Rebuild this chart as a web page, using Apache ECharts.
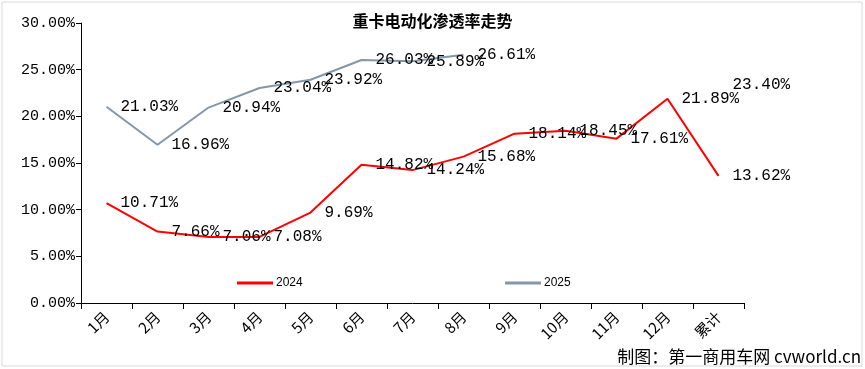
<!DOCTYPE html>
<html>
<head>
<meta charset="utf-8">
<script src="https://cdn.jsdelivr.net/npm/echarts@6/dist/echarts.min.js"></script>
<style>
html,body{margin:0;padding:0;background:#fff;}
#c{width:865px;height:369px;}
</style>
</head>
<body>
<div id="c"></div>
<script>
const categories = ['1月','2月','3月','4月','5月','6月','7月','8月','9月','10月','11月','12月','累计'];
const series2024 = [10.71, 7.66, 7.06, 7.08, 9.69, 14.82, 14.24, 15.68, 18.14, 18.45, 17.61, 21.89, 13.62];
const series2025 = [21.03, 16.96, 20.94, 23.04, 23.92, 26.03, 25.89, 26.61, null, null, null, null, 23.40];
const yTicks = [0, 5, 10, 15, 20, 25, 30];

const chart = echarts.init(document.getElementById('c'));
const labelFont = {
  show: true, position: 'right', distance: 14, color: '#000',
  fontFamily: 'Liberation Mono', fontSize: 16,
  formatter: p => p.value == null ? '' : p.value.toFixed(2) + '%'
};
chart.setOption({
  animation: false,
  backgroundColor: '#fff',
  title: {
    text: '重卡电动化渗透率走势', left: 'center', top: 8,
    textStyle: {fontFamily: 'Noto Sans CJK SC', fontSize: 16, fontWeight: 'bold', color: '#000'}
  },
  legend: [
    {data: ['2024'], left: 232, top: 272, itemWidth: 36, itemHeight: 3, icon: 'rect', itemGap: 4,
     textStyle: {fontFamily: 'Liberation Sans', fontSize: 12, color: '#000', padding: [0,0,0,-2]}},
    {data: ['2025'], left: 500, top: 272, itemWidth: 36, itemHeight: 3, icon: 'rect',
     textStyle: {fontFamily: 'Liberation Sans', fontSize: 12, color: '#000', padding: [0,0,0,-2]}}
  ],
  grid: {left: 81, right: 121, top: 23, bottom: 66, containLabel: false},
  xAxis: {
    type: 'category', data: categories, boundaryGap: true,
    axisLine: {lineStyle: {color: '#000', width: 1}},
    axisTick: {show: true, length: 6, lineStyle: {color: '#000'}},
    axisLabel: {rotate: 45, margin: 11, color: '#000', fontFamily: 'Noto Sans CJK SC', fontSize: 15, interval: 0}
  },
  yAxis: {
    type: 'value', min: yTicks[0], max: yTicks[yTicks.length - 1], interval: 5,
    axisLine: {show: true, lineStyle: {color: '#000', width: 1}},
    axisTick: {show: true, length: 5, lineStyle: {color: '#000'}},
    splitLine: {show: false},
    axisLabel: {margin: 6, color: '#000', fontFamily: 'Liberation Mono', fontSize: 15,
      formatter: v => v.toFixed(2) + '%'}
  },
  series: [
    {name: '2024', type: 'line', data: series2024, showSymbol: true, symbol: 'circle', symbolSize: 0,
     itemStyle: {color: '#FF0000'}, lineStyle: {color: '#FF0000', width: 2}, label: labelFont},
    {name: '2025', type: 'line', data: series2025, showSymbol: true, symbol: 'circle', symbolSize: 0,
     connectNulls: false,
     itemStyle: {color: '#8497A9'}, lineStyle: {color: '#8497A9', width: 2}, label: labelFont}
  ],
  graphic: [
    {type: 'rect', shape: {x: 2, y: 2, width: 860, height: 364},
     style: {fill: 'none', stroke: '#d9d9d9', lineWidth: 1}, silent: true},
    {type: 'text', right: 4, bottom: 4,
     style: {text: '制图：第一商用车网 cvworld.cn', fill: '#000', font: '17px "Noto Sans CJK SC"'}}
  ]
});
</script>
</body>
</html>
